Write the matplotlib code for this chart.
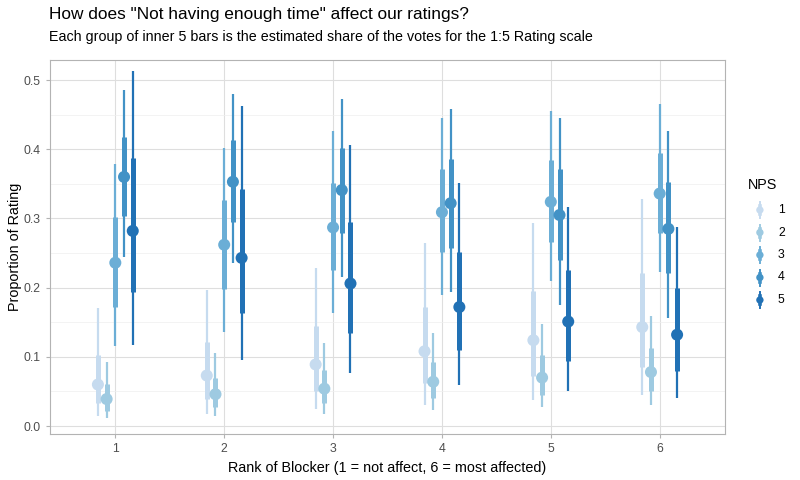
import matplotlib
matplotlib.use("Agg")
import matplotlib.pyplot as plt
import numpy as np

plt.rcParams['font.family'] = ['Liberation Sans', 'DejaVu Sans']

ranks = [1, 2, 3, 4, 5, 6]
nps_levels = ["1", "2", "3", "4", "5"]
colors = ["#C6DBEF", "#9ECAE1", "#6BAED6", "#4292C6", "#2171B5"]

# estimates per NPS level (rows) across rank 1..6 (cols)
est = {
    "1": [0.060, 0.073, 0.089, 0.108, 0.124, 0.143],
    "2": [0.039, 0.046, 0.054, 0.064, 0.070, 0.078],
    "3": [0.236, 0.262, 0.287, 0.309, 0.324, 0.336],
    "4": [0.360, 0.353, 0.341, 0.322, 0.305, 0.285],
    "5": [0.282, 0.243, 0.206, 0.172, 0.151, 0.132],
}
inner_lo = {
    "1": [0.033, 0.039, 0.050, 0.062, 0.073, 0.086],
    "2": [0.022, 0.027, 0.034, 0.040, 0.045, 0.051],
    "3": [0.172, 0.198, 0.225, 0.251, 0.266, 0.279],
    "4": [0.303, 0.295, 0.279, 0.258, 0.240, 0.221],
    "5": [0.194, 0.164, 0.134, 0.110, 0.094, 0.080],
}
inner_hi = {
    "1": [0.103, 0.121, 0.145, 0.172, 0.195, 0.221],
    "2": [0.061, 0.070, 0.081, 0.093, 0.103, 0.113],
    "3": [0.302, 0.326, 0.351, 0.372, 0.385, 0.395],
    "4": [0.418, 0.413, 0.402, 0.386, 0.371, 0.353],
    "5": [0.388, 0.343, 0.295, 0.252, 0.225, 0.199],
}
outer_lo = {
    "1": [0.015, 0.018, 0.024, 0.031, 0.037, 0.045],
    "2": [0.012, 0.015, 0.018, 0.023, 0.027, 0.031],
    "3": [0.115, 0.136, 0.163, 0.190, 0.209, 0.223],
    "4": [0.245, 0.235, 0.216, 0.194, 0.175, 0.156],
    "5": [0.117, 0.095, 0.076, 0.059, 0.050, 0.041],
}
outer_hi = {
    "1": [0.170, 0.197, 0.229, 0.264, 0.294, 0.328],
    "2": [0.092, 0.105, 0.120, 0.135, 0.147, 0.159],
    "3": [0.379, 0.402, 0.426, 0.445, 0.456, 0.465],
    "4": [0.485, 0.480, 0.472, 0.458, 0.445, 0.427],
    "5": [0.513, 0.462, 0.406, 0.351, 0.317, 0.287],
}

fig = plt.figure(figsize=(8, 4.8), dpi=100)
ax = fig.add_axes([50/800, 1 - 434/480, (725 - 50)/800, (434 - 60)/480])

offsets = [-0.16, -0.08, 0.0, 0.08, 0.16]
x = np.arange(1, len(ranks) + 1)
for i, lvl in enumerate(nps_levels):
    xx = x + offsets[i]
    c = colors[i]
    ax.vlines(xx, outer_lo[lvl], outer_hi[lvl], color=c, lw=1.6, zorder=3)
    ax.vlines(xx, inner_lo[lvl], inner_hi[lvl], color=c, lw=3.6, zorder=3)
    ax.scatter(xx, est[lvl], s=75, color=c, zorder=4, edgecolors='none')

ax.set_xlim(0.4, 6.6)
ax.set_ylim(-0.0115, 0.529)
ax.set_xticks(x)
ax.set_xticklabels([str(r) for r in ranks])
ax.set_yticks([0.0, 0.1, 0.2, 0.3, 0.4, 0.5])
ax.set_yticklabels(["0.0", "0.1", "0.2", "0.3", "0.4", "0.5"])
ax.set_yticks([0.05, 0.15, 0.25, 0.35, 0.45], minor=True)
ax.set_xticks([], minor=True)

ax.grid(True, which='major', color='#DEDEDE', lw=0.8, zorder=0)
ax.grid(True, which='minor', axis='y', color='#EFEFEF', lw=0.5, zorder=0)
ax.set_axisbelow(True)
for s in ax.spines.values():
    s.set_color('#B3B3B3')
    s.set_linewidth(0.8)
ax.tick_params(which='major', length=3, color='#B3B3B3', labelcolor='#4D4D4D', labelsize=8.8, width=0.8)
ax.tick_params(which='minor', length=0)

ax.set_xlabel("Rank of Blocker (1 = not affect, 6 = most affected)", fontsize=10.4, labelpad=4)
ax.set_ylabel("Proportion of Rating", fontsize=10.4)
ax.yaxis.set_label_coords((15 - 50) / 675, 0.5)
ax.yaxis.label.set_va('center')

fig.text(49/800, 1 - 15/480, 'How does "Not having enough time" affect our ratings?',
         fontsize=12.4, ha='left', va='center')
fig.text(49/800, 1 - 37/480, 'Each group of inner 5 bars is the estimated share of the votes for the 1:5 Rating scale',
         fontsize=10.3, ha='left', va='center')

# legend
fig.text(748/800, 1 - 185/480, "NPS", fontsize=10.4, ha='left', va='center')
lax = fig.add_axes([750/800, 1 - 312/480, 22/800, 115/480])
lax.set_xlim(0, 1)
lax.set_ylim(0, 115)
lax.axis('off')
for i, lvl in enumerate(nps_levels):
    yc = 115 - (210 + i * 22.5 - 197)
    c = colors[i]
    lax.plot([0.45, 0.45], [yc - 8, yc + 8], color=c, lw=1.4)
    lax.plot([0.45, 0.45], [yc - 4, yc + 4], color=c, lw=2.6)
    lax.scatter([0.45], [yc], s=28, color=c, edgecolors='none', zorder=3)
    fig.text(778/800, 1 - (210 + i * 22.5)/480, lvl, fontsize=8.8, ha='left', va='center')

fig.savefig("out.png", dpi=100)
